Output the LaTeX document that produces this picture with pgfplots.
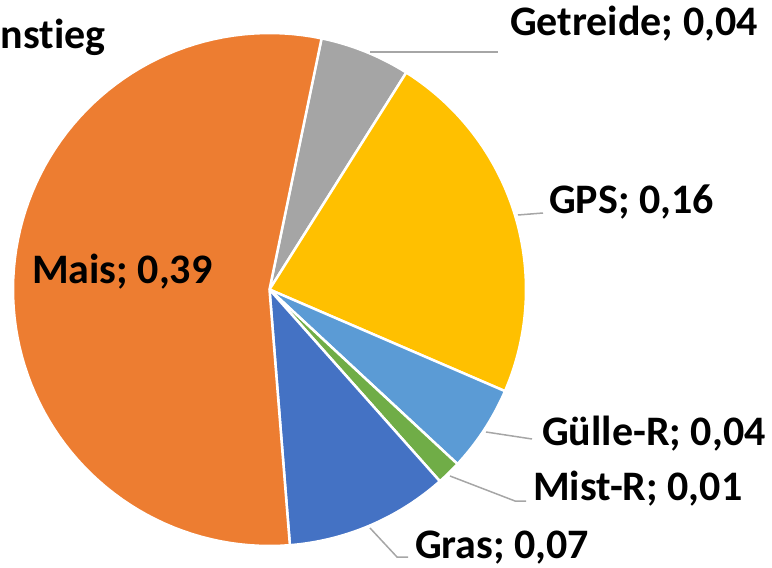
\documentclass[border=0pt]{standalone}
\usepackage{pgfplots}
\pgfplotsset{compat=1.18}
\usepackage{fontspec}
\setmainfont{Carlito}[Ligatures=NoCommon]
\definecolor{cMais}{HTML}{ED7D31}
\definecolor{cGet}{HTML}{A5A5A5}
\definecolor{cGPS}{HTML}{FFC000}
\definecolor{cGuelle}{HTML}{5B9BD5}
\definecolor{cMist}{HTML}{70AD47}
\definecolor{cGras}{HTML}{4472C4}
\definecolor{cLead}{HTML}{A6A6A6}
% slice values (Getreide, GPS, Guelle-R, Mist-R, Gras, Mais)
\def\vGet{0.041}\def\vGPS{0.162}\def\vGuelle{0.039}\def\vMist{0.011}\def\vGras{0.074}\def\vMais{0.392}
\pgfmathsetmacro\kfac{360/(\vGet+\vGPS+\vGuelle+\vMist+\vGras+\vMais)}
\newcommand\slice[2]{%
  \pgfmathsetmacro\enda{\cura-#1*\kfac}%
  \edef\tmp{\noexpand\addplot[fill=#2, draw=white, line width=2.5bp, domain=\enda:\cura, samples=90]}%
  \tmp ({cos(x)},{sin(x)}) -- (axis cs:0,0) -- cycle;
  \xdef\cura{\enda}%
}
\begin{document}
\begin{tikzpicture}
\path[use as bounding box] (0bp,0bp) rectangle (772bp,-568bp);
\clip (0bp,0bp) rectangle (772bp,-568bp);
\begin{axis}[at={(269.5bp,-289.5bp)}, anchor=center, width=513bp, height=513bp, scale only axis,
  xmin=-1,xmax=1,ymin=-1,ymax=1, hide axis, clip=false]
\xdef\cura{78.3}
\slice{\vGet}{cGet}
\slice{\vGPS}{cGPS}
\slice{\vGuelle}{cGuelle}
\slice{\vMist}{cMist}
\slice{\vGras}{cGras}
\slice{\vMais}{cMais}
\end{axis}
\begin{scope}[x=1bp,y=-1bp]
\begin{scope}[line width=1.5bp]
\draw[cLead] (370,52) -- (498,52);
\draw[cLead] (518,215) -- (543,213);
\draw[cLead] (486,432) -- (532,439);
\draw[cLead] (450,476) -- (515,501) -- (526,501);
\draw[cLead] (370,528) -- (397,557) -- (408,557);
\end{scope}
\begin{scope}[every node/.style={inner sep=0pt, font=\fontsize{42bp}{46bp}\selectfont\bfseries}]
\node[anchor=base west] at (0.5,48) {nstieg};
\node[anchor=base west] at (510,35) {Getreide; 0,04};
\node[anchor=base west] at (549,213) {GPS; 0,16};
\node[anchor=base west] at (542,445) {Gülle-R; 0,04};
\node[anchor=base west] at (533,500) {Mist-R; 0,01};
\node[anchor=base west] at (415,558) {Gras; 0,07};
\node[anchor=base west] at (32,283) {Mais; 0,39};
\end{scope}
\end{scope}
\end{tikzpicture}
\end{document}
